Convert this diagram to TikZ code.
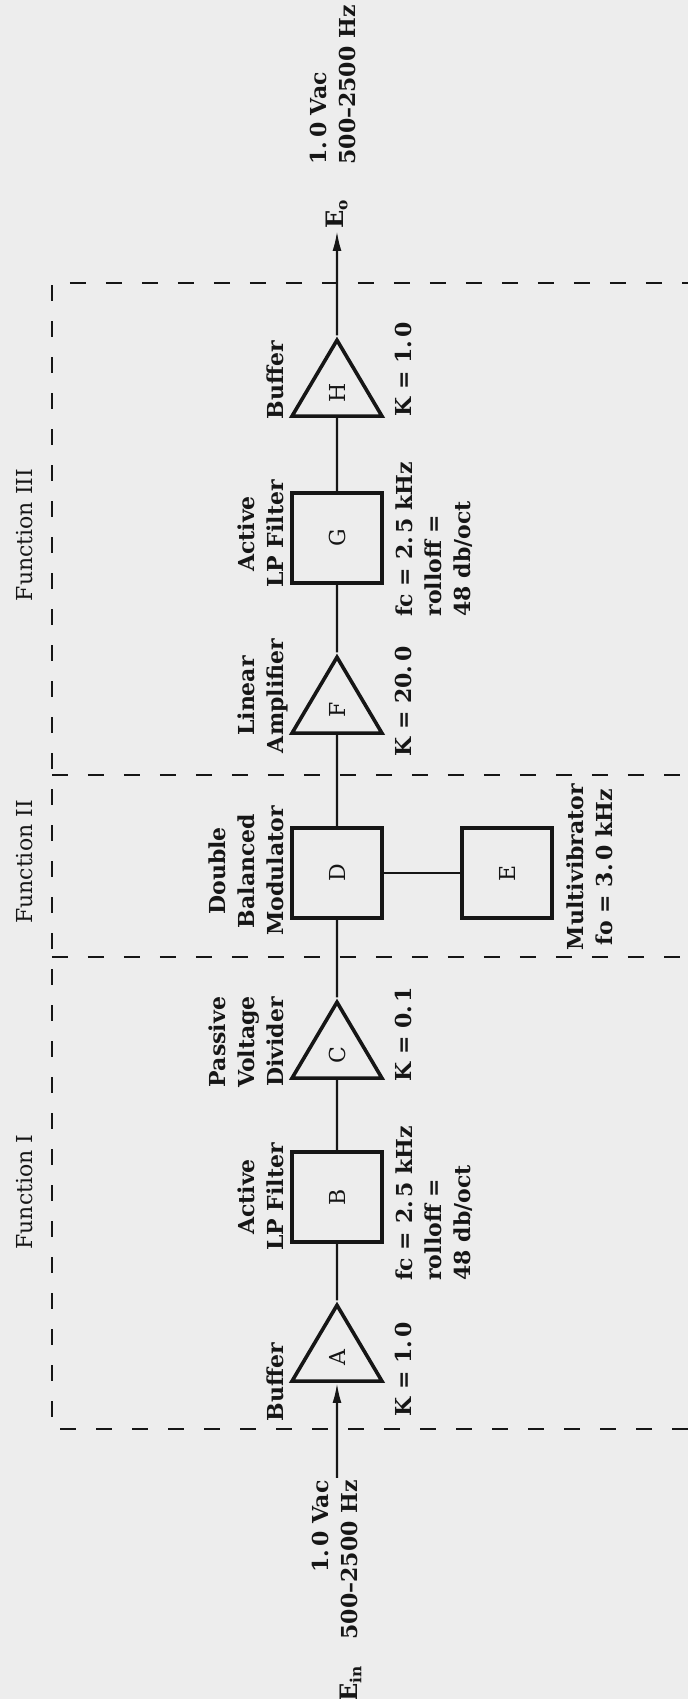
\documentclass[tikz,border=0pt]{standalone}
\usepackage{fontspec}
\setmainfont{DejaVu Serif}
\usetikzlibrary{shapes.geometric,arrows.meta,positioning}
\definecolor{paper}{RGB}{237,237,237}
\definecolor{ink}{RGB}{22,22,22}

\begin{document}
\begin{tikzpicture}[
x=0.5pt,y=0.5pt,rotate=90,transform shape,
every node/.style={text=ink,font=\fontsize{11}{14.5}\selectfont},
squa/.style={
  draw=ink,
  line width=1.8pt,
  minimum size=45pt,
  inner sep=0pt
},
ampl/.style={
  draw=ink,
  line width=1.8pt,
  isosceles triangle,
  isosceles triangle stretches,
  minimum width=45pt,
  minimum height=38pt,
  inner sep=1pt,
  anchor=lower side
},
ttl/.style={
  anchor=south,
  align=center,
  inner sep=0pt,
  text depth=0pt,
  font=\fontsize{11}{14.5}\selectfont\bfseries
},
parm/.style={
  anchor=north west,
  align=left,
  inner sep=0pt,
  font=\fontsize{11}{14.5}\selectfont\bfseries
},
func/.style={anchor=base,inner sep=0pt},
sig/.style={draw=ink,line width=1.1pt},
bnd/.style={draw=ink,line width=1.1pt,dash pattern=on 8pt off 10pt}
]
\path[fill=paper,use as bounding box] (0,-351) rectangle (1699,337);

% function boundaries
\draw[bnd] (270,-351) -- (270,285) -- (1416,285) -- (1416,-351);
\draw[bnd] (742,285) -- (742,-351);
\draw[bnd] (924,285) -- (924,-351);
\node[func] (f1) at (507,304) {Function I};
\node[func] (f2) at (837,304) {Function II};
\node[func] (f3) at (1164,304) {Function III};

% signal chain
\node[anchor=east,inner sep=1pt,font=\fontsize{11}{14.5}\selectfont\bfseries] (ein) at (221,0)
  {\begin{tabular}{@{}l@{\hspace{13pt}}r@{}}&1.\,0 Vac\\{\large E}\textsubscript{in}&500--2500 Hz\end{tabular}};
\node[ampl] (A) at (316,0) {A};
\node[squa] (B) at (502,0) {B};
\node[ampl] (C) at (619,0) {C};
\node[squa] (D) at (826,0) {D};
\node[squa] (E) at (826,-170) {E};
\node[ampl] (F) at (964,0) {F};
\node[squa] (G) at (1161,0) {G};
\node[ampl] (H) at (1281,0) {H};
\node[anchor=west,inner sep=1pt,font=\fontsize{11}{14.5}\selectfont\bfseries] (eo) at (1468,0)
  {{\large E}\textsubscript{o}};
\node[anchor=west,align=left,inner sep=0pt,font=\fontsize{11}{14.5}\selectfont\bfseries] (vout) at (1534,4)
  {1.\,0 Vac\\500--2500 Hz};

\draw[sig,-{Latex[length=10pt,width=4.5pt]}] (ein) -- (A);
\draw[sig] (A) -- (B);
\draw[sig] (B) -- (C);
\draw[sig] (C) -- (D);
\draw[sig] (D) -- (E);
\draw[sig] (D) -- (F);
\draw[sig] (F) -- (G);
\draw[sig] (G) -- (H);
\draw[sig,-{Latex[length=10pt,width=4.5pt]}] (H) -- (eo);

% block names
\node[ttl] (tA) at (317,53) {Buffer};
\node[ttl] (tB) at (502,53) {Active\\LP Filter};
\node[ttl] (tC) at (657,53) {Passive\\Voltage\\Divider};
\node[ttl] (tD) at (828,53) {Double\\Balanced\\Modulator};
\node[ttl] (tF) at (1003,53) {Linear\\Amplifier};
\node[ttl] (tG) at (1165,53) {Active\\LP Filter};
\node[ttl] (tH) at (1319,53) {Buffer};

% block values
\node[parm] (kA) at (282,-58) {K = 1.\,0};
\node[parm] (pB) at (418,-58) {fc = 2.\,5 kHz\\rolloff =\\48 db/oct};
\node[parm] (kC) at (617,-58) {K = 0.\,1};
\node[parm] (kF) at (942,-58) {K = 20.\,0};
\node[parm] (pG) at (1082,-58) {fc = 2.\,5 kHz\\rolloff =\\48 db/oct};
\node[parm] (kH) at (1282,-58) {K = 1.\,0};
\node[ttl,anchor=north] (mE) at (832,-229) {Multivibrator\\fo = 3.\,0 kHz};
\end{tikzpicture}
\end{document}
